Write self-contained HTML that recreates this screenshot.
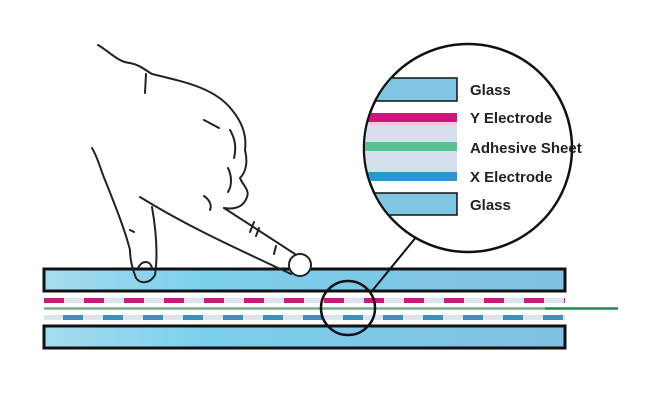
<!DOCTYPE html>
<html><head><meta charset="utf-8"><style>
html,body{margin:0;padding:0;background:#fff;width:650px;height:400px;overflow:hidden}
text{font-family:"Liberation Sans",sans-serif;font-weight:bold;font-size:15px;fill:#222}
</style></head><body>
<svg width="650" height="400" viewBox="0 0 650 400" xmlns="http://www.w3.org/2000/svg">
<defs>
<linearGradient id="g" x1="0" x2="1" y1="0" y2="0">
<stop offset="0" stop-color="#a6dcef"/><stop offset="0.3" stop-color="#7dd0ec"/><stop offset="1" stop-color="#80c0e2"/>
</linearGradient>
<clipPath id="cc"><circle cx="468" cy="148" r="103"/></clipPath>
</defs>
<rect x="44" y="269" width="521" height="22" fill="url(#g)" stroke="#111" stroke-width="3"/>
<rect x="44" y="298" width="521" height="5" fill="#dde3ec"/>
<line x1="44" y1="300.5" x2="565" y2="300.5" stroke="#c41e7a" stroke-width="5" stroke-dasharray="20 20"/>
<line x1="44" y1="308.5" x2="545" y2="308.5" stroke="#7bab8e" stroke-width="2.5"/>
<line x1="545" y1="308.5" x2="618" y2="308.5" stroke="#23874a" stroke-width="2.5"/>
<rect x="44" y="315" width="521" height="5" fill="#dde3ec"/>
<line x1="63" y1="317.5" x2="565" y2="317.5" stroke="#3a91bd" stroke-width="5" stroke-dasharray="20 20"/>
<rect x="44" y="326" width="521" height="22" fill="url(#g)" stroke="#111" stroke-width="3"/>
<ellipse cx="348" cy="308" rx="27" ry="27" fill="none" stroke="#111" stroke-width="2.5"/>
<line x1="372" y1="291" x2="417" y2="236" stroke="#111" stroke-width="2"/>
<circle cx="468" cy="148" r="104" fill="#fff" stroke="#111" stroke-width="2.5"/>
<g clip-path="url(#cc)">
<rect x="350" y="78" width="107" height="23" fill="#7ec6e2" stroke="#111" stroke-width="1.5"/>
<rect x="350" y="113" width="107" height="9" fill="#d0157a"/>
<rect x="350" y="122" width="107" height="3" fill="#f2c8dd"/>
<rect x="350" y="125" width="107" height="47" fill="#d6e0ec"/>
<rect x="350" y="142" width="107" height="9" fill="#5bbf94"/>
<rect x="350" y="172" width="107" height="9" fill="#2e95cf"/>
<rect x="350" y="193" width="107" height="22" fill="#7ec6e2" stroke="#111" stroke-width="1.5"/>
</g>
<text x="470" y="95">Glass</text>
<text x="470" y="123">Y Electrode</text>
<text x="470" y="153">Adhesive Sheet</text>
<text x="470" y="182">X Electrode</text>
<text x="470" y="210">Glass</text>
<g fill="none" stroke="#222" stroke-width="2" stroke-linecap="round" stroke-linejoin="round">
<path d="M98,45 C110,52 118,62 130,63 C140,65 145,70 152,74 C185,82 215,88 232,110 C242,122 247,135 245,150 C248,162 246,172 240,178 C242,184 250,190 247,197 C244,206 236,210 224,208"/>
<path d="M224,208 L298,256"/>
<circle cx="300" cy="265" r="11" fill="#fff"/>
<path d="M291,274 C240,250 190,228 140,197"/>
<path d="M152,207 C156,230 158,255 155,275 C150,284 140,284 136,278 C132,268 130,260 130,250 C125,230 115,205 105,180 C100,168 98,158 92,148"/>
<path d="M138,268 C142,260 150,260 152,268"/>
<path d="M146,74 L145,93"/><path d="M204,120 L219,128"/><path d="M230,130 C236,140 236,150 234,158"/>
<path d="M228,168 C232,176 232,186 228,192"/><path d="M204,196 C210,200 212,206 210,210"/>
<path d="M130,230 L134,232"/><path d="M250,232 L254,222"/><path d="M256,236 L259,228"/><path d="M274,254 L276,246"/>
</g>
</svg>
</body></html>
